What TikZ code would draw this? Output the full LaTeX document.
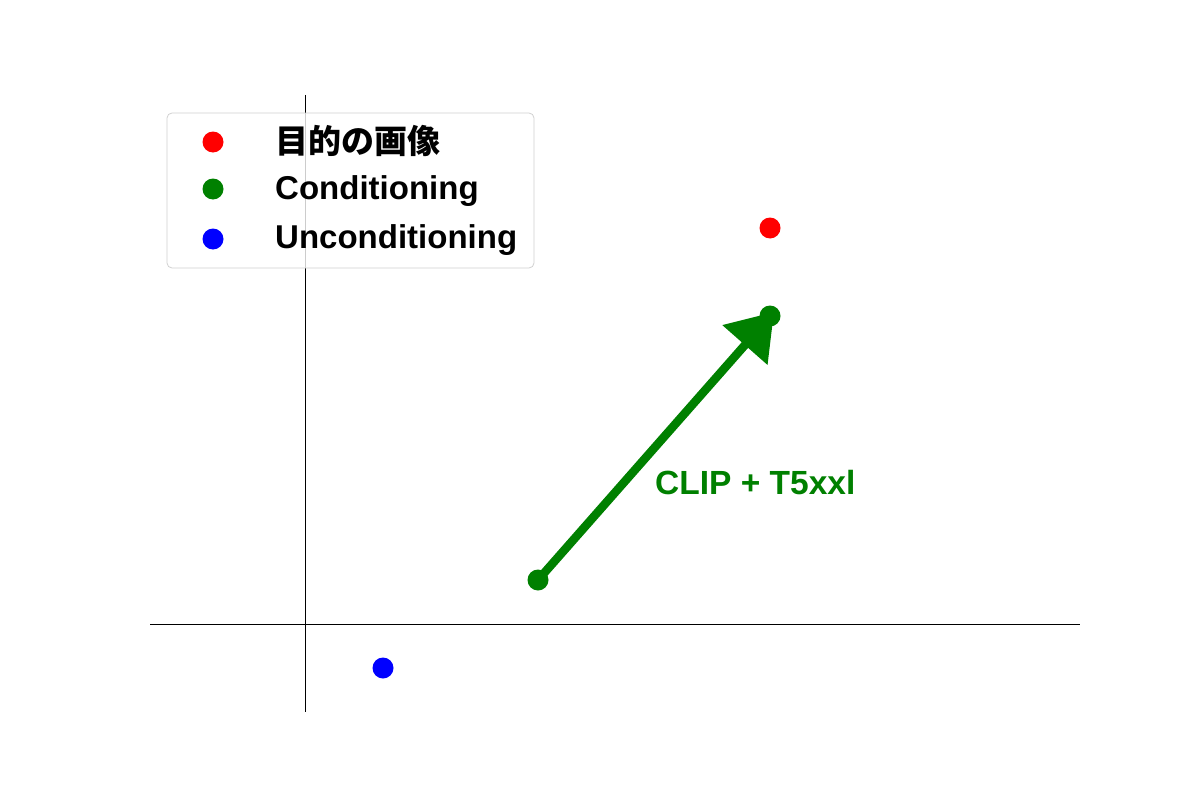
\documentclass[tikz,border=0pt]{standalone}
\usepackage{fontspec}
\setmainfont{Liberation Sans}
\newfontfamily\cjk{Noto Sans CJK JP}
\usetikzlibrary{arrows.meta}
\definecolor{mgreen}{RGB}{0,128,0}
\definecolor{mred}{RGB}{255,0,0}
\definecolor{mblue}{RGB}{0,0,255}
\tikzset{
  axisline/.style={line width=0.8pt, black},
  dot/.style={circle, inner sep=0pt, minimum size=21pt, fill=#1, draw=none},
  legtext/.style={anchor=west, inner sep=0pt, font=\fontsize{33}{33}\selectfont\bfseries},
  vecarrow/.style={mgreen, line width=8.5pt, -{Triangle[length=44pt,width=58pt]}},
}
\begin{document}
\begin{tikzpicture}[x=1pt,y=-1pt]
\useasboundingbox (0,0) rectangle (1200,800);
\fill[white] (0,0) rectangle (1200,800);
% axes
\coordinate (vt) at (305,95);
\coordinate (vb) at (305,712);
\coordinate (hl) at (150,624);
\coordinate (hr) at (1080,624);
\draw[axisline] (vt) -- (vb);
\draw[axisline] (hl) -- (hr);
% arrow
\coordinate (s) at (538,580);
\coordinate (e) at (774,312);
\draw[vecarrow] (s) -- (e);
\node[dot=mgreen] (start) at (538,580) {};
\node[dot=mgreen] (cond) at (770,316) {};
\node[dot=mred] (target) at (770,228) {};
\node[dot=mblue] (uncond) at (383,668) {};
\node[anchor=west, inner sep=0pt, text=mgreen, font=\fontsize{33.5}{33.5}\selectfont\bfseries] (lbl) at (655,483) {CLIP + T5xxl};
% legend
\draw[draw=black!18, fill=white, fill opacity=0.8, line width=0.8pt, rounded corners=5pt] (167,113) rectangle (534,268);
\node[dot=mred] (l1) at (213,142) {};
\node[dot=mgreen] (l2) at (213,189) {};
\node[dot=mblue] (l3) at (213,239) {};
\node[legtext] (t1) at (275,141) {\cjk 目的の画像};
\node[legtext] (t2) at (275,191) {Conditioning};
\node[legtext] (t3) at (275,240) {Unconditioning};
\end{tikzpicture}
\end{document}
